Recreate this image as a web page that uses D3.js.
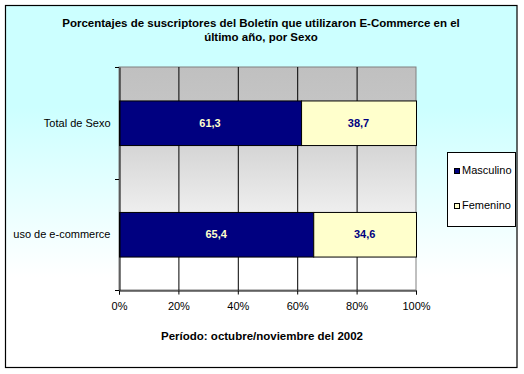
<!DOCTYPE html>
<html>
<head>
<meta charset="utf-8">
<script src="https://cdn.jsdelivr.net/npm/d3@7"></script>
<style>
  body { margin: 0; background: #fff; }
  svg { display: block; font-family: "Liberation Sans", Arial, sans-serif; }
</style>
</head>
<body>
<div id="chart"></div>
<script>
// data
const categories = ["Total de Sexo", "uso de e-commerce"];
const series = ["Masculino", "Femenino"];
const masculino = [61.3, 65.4];
const femenino = [38.7, 34.6];
const xTicks = [0, 20, 40, 60, 80, 100];

const colors = { Masculino: "#000080", Femenino: "#ffffcc" };
const labelColors = { Masculino: "#ffffcc", Femenino: "#000080" };

let W = 524, H = 374;
let plot = { left: 119, right: 416, top: 67, bottom: 290 };

let svg = d3.select("#chart").append("svg")
    .attr("width", W)
    .attr("height", H);

let defs = svg.append("defs");
let bgGrad = defs.append("linearGradient")
    .attr("id", "bgGrad").attr("x1", 0).attr("y1", 0).attr("x2", 0).attr("y2", 1);
bgGrad.append("stop").attr("offset", "0%").attr("stop-color", "#ccffff");
bgGrad.append("stop").attr("offset", "28%").attr("stop-color", "#ccffff");
bgGrad.append("stop").attr("offset", "75%").attr("stop-color", "#ffffff");
bgGrad.append("stop").attr("offset", "100%").attr("stop-color", "#ffffff");

let plotGrad = defs.append("linearGradient")
    .attr("id", "plotGrad").attr("x1", 0).attr("y1", 0).attr("x2", 0).attr("y2", 1);
plotGrad.append("stop").attr("offset", "0%").attr("stop-color", "#c0c0c0");
plotGrad.append("stop").attr("offset", "15%").attr("stop-color", "#c4c4c4");
plotGrad.append("stop").attr("offset", "85%").attr("stop-color", "#ffffff");
plotGrad.append("stop").attr("offset", "100%").attr("stop-color", "#ffffff");

// chart area
svg.append("rect")
    .attr("x", 5.5).attr("y", 5.5)
    .attr("width", 511.5).attr("height", 362)
    .attr("fill", "url(#bgGrad)")
    .attr("stroke", "#000").attr("stroke-width", 1.2);

// title
let title = svg.append("text")
    .attr("text-anchor", "middle")
    .attr("font-size", "11.5px").attr("font-weight", "bold");
title.append("tspan").attr("x", 261).attr("y", 27)
    .text("Porcentajes de suscriptores del Boletín que utilizaron E-Commerce en el");
title.append("tspan").attr("x", 261).attr("y", 41)
    .text("último año, por Sexo");

let x = d3.scaleLinear().domain([0, 100]).range([plot.left, plot.right]);
let y = d3.scaleBand().domain(categories)
    .range([plot.top, plot.bottom])
    .paddingInner(0.6).paddingOuter(0.3);

// plot area
svg.append("rect")
    .attr("x", plot.left).attr("y", plot.top)
    .attr("width", plot.right - plot.left).attr("height", plot.bottom - plot.top)
    .attr("fill", "url(#plotGrad)")
    .attr("stroke", "#808080");

// gridlines
svg.append("g").selectAll("line")
    .data(xTicks.slice(1, -1))
    .enter().append("line")
    .attr("x1", d => x(d) + 0.5).attr("x2", d => x(d) + 0.5)
    .attr("y1", plot.top).attr("y2", plot.bottom)
    .attr("stroke", "#000");

// stacked bars
let rows = categories.map((c, i) => ({ cat: c, Masculino: masculino[i], Femenino: femenino[i] }));
let stacked = d3.stack().keys(series)(rows);

let layers = svg.append("g").selectAll("g")
    .data(stacked)
    .enter().append("g");

layers.selectAll("rect")
    .data(d => d.map(p => ({ key: d.key, p: p })))
    .enter().append("rect")
    .attr("x", d => x(d.p[0]) + 0.5)
    .attr("y", d => y(d.p.data.cat) + 0.5)
    .attr("width", d => x(d.p[1]) - x(d.p[0]))
    .attr("height", y.bandwidth())
    .attr("fill", d => colors[d.key])
    .attr("stroke", "#000");

layers.selectAll("text")
    .data(d => d.map(p => ({ key: d.key, p: p })))
    .enter().append("text")
    .attr("x", d => (x(d.p[0]) + x(d.p[1])) / 2)
    .attr("y", d => y(d.p.data.cat) + y.bandwidth() / 2 + 4)
    .attr("text-anchor", "middle")
    .attr("font-size", "11px").attr("font-weight", "bold")
    .attr("fill", d => labelColors[d.key])
    .text(d => d3.format(".1f")(d.p[1] - d.p[0]).replace(".", ","));

// axes
let xAxis = svg.append("g")
    .attr("transform", "translate(0," + (plot.bottom + 0.5) + ")")
    .call(d3.axisBottom(x).tickValues(xTicks).tickSize(4).tickPadding(8)
        .tickFormat(d => d + "%"));
xAxis.select(".domain").attr("stroke", "#000");
xAxis.selectAll("text").attr("font-size", "11px").attr("fill", "#000")
    .attr("font-family", "Liberation Sans, Arial, sans-serif");

let yAxis = svg.append("g")
    .attr("transform", "translate(" + (plot.left + 0.5) + ",0)")
    .call(d3.axisLeft(y).tickSize(0).tickPadding(9));
yAxis.select(".domain").attr("stroke", "#000");
yAxis.selectAll("text").attr("font-size", "11px").attr("fill", "#000")
    .attr("font-family", "Liberation Sans, Arial, sans-serif")
    .attr("dy", "0.35em");

// category boundary ticks
svg.append("g").selectAll("line")
    .data([plot.top, (plot.top + plot.bottom) / 2, plot.bottom])
    .enter().append("line")
    .attr("x1", plot.left - 4).attr("x2", plot.left)
    .attr("y1", d => Math.round(d) + 0.5).attr("y2", d => Math.round(d) + 0.5)
    .attr("stroke", "#000");

// x axis title
svg.append("text")
    .attr("x", 262).attr("y", 340)
    .attr("text-anchor", "middle")
    .attr("font-size", "11.5px").attr("font-weight", "bold")
    .text("Período: octubre/noviembre del 2002");

// legend
let legend = svg.append("g");
legend.append("rect")
    .attr("x", 447.5).attr("y", 152.5)
    .attr("width", 68).attr("height", 74)
    .attr("fill", "#fff").attr("stroke", "#000");

let items = legend.selectAll("g.item")
    .data(series)
    .enter().append("g").attr("class", "item")
    .attr("transform", (d, i) => "translate(454," + (168 + i * 35) + ")");
items.append("rect")
    .attr("x", 0.5).attr("y", 0.5)
    .attr("width", 5).attr("height", 5)
    .attr("fill", d => colors[d]).attr("stroke", "#000");
items.append("text")
    .attr("x", 8).attr("y", 6)
    .attr("font-size", "11px")
    .text(d => d);
</script>
</body>
</html>
